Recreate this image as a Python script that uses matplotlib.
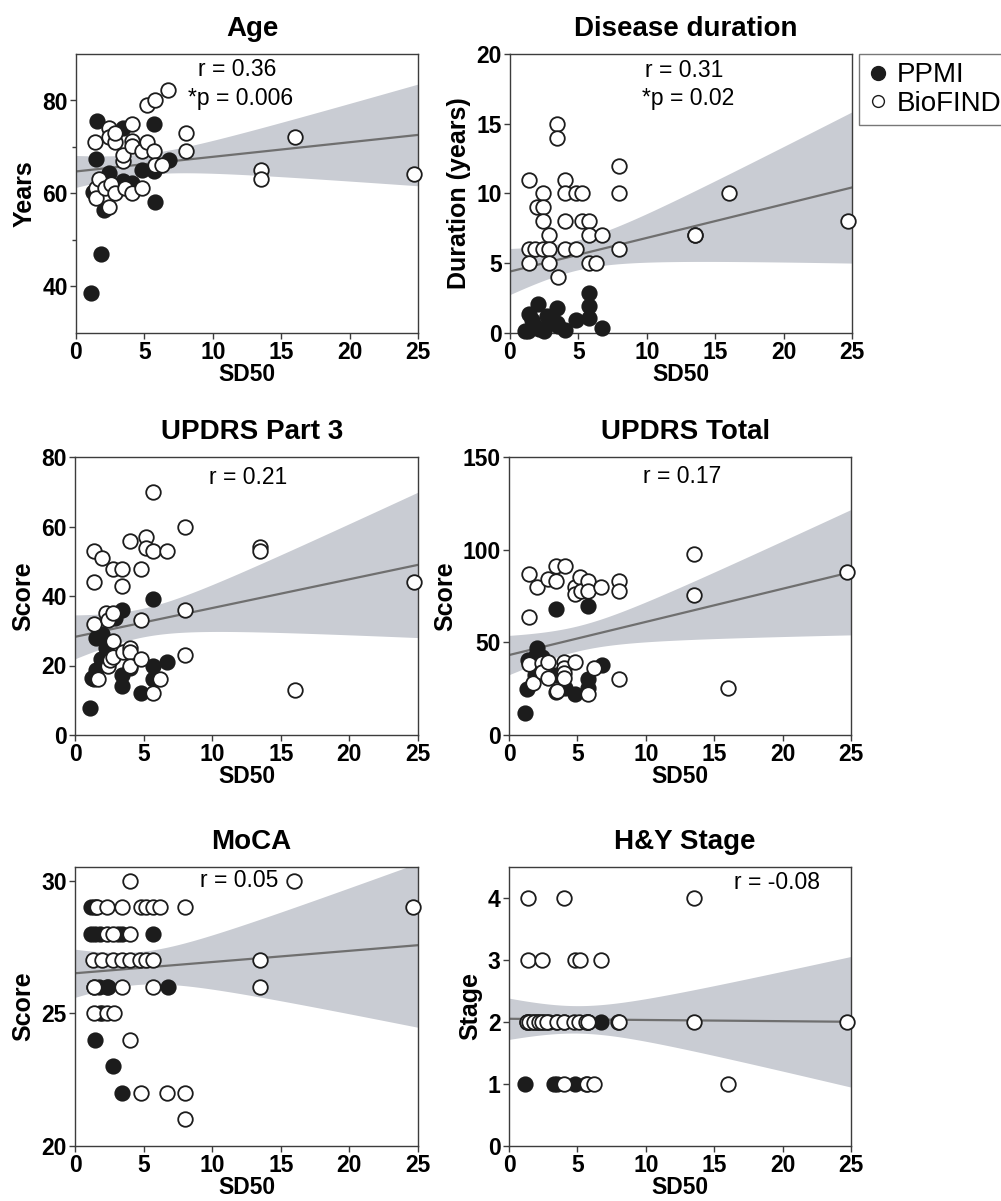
import numpy as np
import matplotlib
matplotlib.use('Agg')
import matplotlib.pyplot as plt
from matplotlib.lines import Line2D

plt.rcParams['font.family'] = ['Liberation Sans', 'DejaVu Sans']

# ---- data (x = SD50) ----
# Age
age_ppmi_x = [1.51, 1.43, 1.12, 1.80, 2.04, 2.43, 3.45, 3.45, 4.06, 4.84, 5.69, 5.69, 5.74, 6.78, 1.22]
age_ppmi_y = [75.5, 67.5, 38.6, 47.0, 56.4, 64.4, 74.1, 62.6, 62.3, 65.1, 75.0, 64.9, 58.1, 67.1, 60.3]
age_bio_x = [1.41, 1.43, 1.43, 1.70, 2.09, 2.43, 2.43, 2.43, 2.53, 2.82, 2.82, 2.82, 3.45, 3.45, 3.55,
             4.06, 4.06, 4.06, 4.06, 4.84, 4.84, 5.20, 5.20, 5.74, 5.69, 5.74, 6.30, 6.74, 8.03, 8.03,
             13.55, 13.55, 16.0, 24.7]
age_bio_y = [71.0, 61.2, 59.0, 63.1, 61.2, 74.1, 72.2, 57.1, 62.1, 71.0, 73.0, 60.1, 66.9, 68.2, 61.2,
             75.0, 71.2, 70.2, 60.1, 69.1, 61.2, 79.1, 71.0, 80.2, 69.1, 66.1, 66.1, 82.2, 73.0, 69.1,
             65.1, 63.1, 72.1, 64.1]

# Disease duration
dur_ppmi_x = [1.11, 1.33, 1.41, 1.59, 2.02, 2.12, 2.52, 2.71, 2.92, 3.40, 3.45, 3.50, 4.03, 4.83,
              5.76, 5.76, 5.76, 6.74, 1.86]
dur_ppmi_y = [0.15, 0.15, 1.35, 0.9, 2.1, 0.3, 0.15, 1.25, 0.9, 1.8, 0.75, 0.5, 0.25, 0.9,
              2.9, 1.9, 1.05, 0.35, 0.5]
dur_bio_x = [1.41, 1.41, 1.41, 1.86, 1.99, 2.44, 2.44, 2.44, 2.44, 2.84, 2.84, 2.84, 3.45, 3.45, 3.50,
             4.03, 4.03, 4.03, 4.03, 4.83, 4.83, 5.25, 5.25, 5.76, 5.76, 5.76, 6.29, 6.74, 7.99, 7.99,
             7.99, 13.54, 13.54, 15.98, 24.68]
dur_bio_y = [11, 6, 5, 6, 9, 10, 9, 8, 6, 7, 6, 5, 15, 14, 4,
             11, 10, 8, 6, 10, 6, 10, 8, 8, 7, 5, 5, 7, 12, 10,
             6, 7, 7, 10, 8]

# UPDRS Part 3
u3_ppmi_x = [1.07, 1.27, 1.51, 1.56, 1.97, 1.88, 2.29, 2.90, 3.41, 3.41, 3.41, 4.0, 4.8, 5.68, 5.68, 5.68, 6.73, 1.36]
u3_ppmi_y = [7.9, 16.3, 28, 18.7, 29, 22, 24.9, 33.8, 35.9, 17.2, 14.1, 19.2, 12, 39.1, 19.9, 16, 20.9, 16]
u3_bio_x = [1.39, 1.39, 1.39, 1.97, 1.71, 2.29, 2.39, 2.39, 2.53, 2.78, 2.78, 2.78, 2.78, 3.39, 3.39, 3.51,
            4.0, 4.0, 4.0, 4.0, 4.8, 4.8, 4.8, 5.17, 5.17, 5.68, 5.68, 5.68, 6.21, 6.73, 8.02, 8.02, 8.02,
            13.5, 13.5, 16.0, 24.7]
u3_bio_y = [53, 44, 31.9, 51, 16, 35.2, 33, 19.9, 21.6, 47.9, 35.2, 27, 22.5, 47.9, 42.9, 23.9,
            55.8, 25.1, 23.9, 19.9, 47.9, 33, 22, 57, 53.9, 69.9, 53, 12, 16, 53, 59.9, 35.9, 23,
            54.1, 53, 12.9, 44]

# UPDRS Total
tot_ppmi_x = [1.17, 1.30, 1.38, 2.04, 1.99, 2.31, 1.91, 3.42, 3.42, 3.42, 4.11, 4.83, 5.76, 5.76, 5.76, 6.77, 2.44]
tot_ppmi_y = [12.0, 24.6, 40.4, 47.2, 43.1, 41.3, 32.3, 67.9, 32.3, 23.0, 25.1, 21.9, 69.7, 30.0, 25.1, 37.7, 42.2]
tot_bio_x = [1.43, 1.43, 1.43, 2.04, 1.78, 2.44, 2.44, 2.84, 2.84, 2.84, 3.42, 3.42, 3.50, 4.09, 4.03,
             4.03, 4.03, 4.03, 4.83, 4.83, 4.83, 5.18, 5.23, 5.76, 5.76, 5.76, 6.24, 6.71, 8.01, 8.01,
             8.01, 13.51, 13.51, 16.0, 24.68]
tot_bio_y = [87.1, 63.8, 38.1, 79.9, 27.8, 38.6, 33.8, 84.1, 39.5, 30.9, 91.1, 83.0, 23.9, 91.1, 39.5,
             35.9, 33.2, 30.9, 79.9, 76.3, 39.2, 85.0, 77.8, 83.0, 77.8, 21.9, 35.9, 79.9, 83.0, 77.8,
             30.0, 97.9, 75.8, 25.1, 88.0]

# MoCA
moca_ppmi_x = [1.15, 1.35, 1.5, 1.2, 1.45, 1.8, 3.15, 3.45, 5.7, 1.4, 1.75, 2.3, 2.4, 6.8, 1.8, 2.0, 1.48, 2.77, 3.45]
moca_ppmi_y = [29, 29, 29, 28, 28, 28, 28, 28, 28, 26, 26, 26, 26, 26, 25, 25, 24, 23, 22]
moca_bio_x = [3.99, 15.95,
              1.6, 2.36, 3.4, 4.79, 5.2, 5.69, 6.23, 8.0, 24.66,
              2.33, 2.77, 3.99,
              1.31, 2.0, 2.77, 3.45, 3.99, 4.77, 5.2, 5.69, 13.47,
              1.39, 3.4, 5.69, 13.47,
              1.39, 2.36, 2.82,
              3.99,
              4.79, 6.71, 8.0,
              8.0]
moca_bio_y = [30, 30,
              29, 29, 29, 29, 29, 29, 29, 29, 29,
              28, 28, 28,
              27, 27, 27, 27, 27, 27, 27, 27, 27,
              26, 26, 26, 26,
              25, 25, 25,
              24,
              22, 22, 22,
              21]

# H&Y stage (many PPMI stage-2 points sit under the open circles)
hy_ppmi_x = [6.73, 1.33, 1.41, 1.59, 1.86, 2.02, 2.12, 2.52, 2.71, 2.92, 3.40, 4.03, 5.76, 5.76,
             1.14, 3.27, 3.48, 4.79, 5.66]
hy_ppmi_y = [2, 2, 2, 2, 2, 2, 2, 2, 2, 2, 2, 2, 2, 2,
             1, 1, 1, 1, 1]
hy_bio_x = [1.36, 4.02, 13.51,
            1.36, 2.42, 4.79, 5.21, 6.73,
            1.28, 1.46, 1.81, 2.21, 2.42, 2.79, 3.48, 4.02, 4.73, 5.13, 5.66, 5.74, 7.98, 8.06, 13.51, 24.68,
            4.02, 5.72, 6.2, 15.98]
hy_bio_y = [4, 4, 4,
            3, 3, 3, 3, 3,
            2, 2, 2, 2, 2, 2, 2, 2, 2, 2, 2, 2, 2, 2, 2, 2,
            1, 1, 1, 1]

r_text = ['r = 0.36', 'r = 0.31', 'r = 0.21', 'r = 0.17', 'r = 0.05', 'r = -0.08']
p_text = ['*p = 0.006', '*p = 0.02', None, None, None, None]

W, H = 1001, 1201
fig = plt.figure(figsize=(W / 100, H / 100), dpi=100)

def rect(l, t, r, b):
    return [l / W, 1 - b / H, (r - l) / W, (b - t) / H]

# title, ylabel, data, ylim, yticks, minor, axes rect, r-text pos, p-text y
panels = [
    ('Age', 'Years', age_ppmi_x, age_ppmi_y, age_bio_x, age_bio_y, (30, 90), [40, 60, 80], [50, 70],
     rect(76, 54, 418, 333), (0.47, 0.943), 0.842),
    ('Disease duration', 'Duration (years)', dur_ppmi_x, dur_ppmi_y, dur_bio_x, dur_bio_y, (0, 20),
     [0, 5, 10, 15, 20], [], rect(510, 54, 852, 333), (0.51, 0.940), 0.842),
    ('UPDRS Part 3', 'Score', u3_ppmi_x, u3_ppmi_y, u3_bio_x, u3_bio_y, (0, 80), [0, 20, 40, 60, 80], [],
     rect(75, 457, 418, 735), (0.506, 0.928), None),
    ('UPDRS Total', 'Score', tot_ppmi_x, tot_ppmi_y, tot_bio_x, tot_bio_y, (0, 150), [0, 50, 100, 150], [],
     rect(509, 457, 851, 735), (0.506, 0.93), None),
    ('MoCA', 'Score', moca_ppmi_x, moca_ppmi_y, moca_bio_x, moca_bio_y, (20, 30.52), [20, 25, 30], [],
     rect(75, 867, 418, 1146), (0.479, 0.951), None),
    ('H&Y Stage', 'Stage', hy_ppmi_x, hy_ppmi_y, hy_bio_x, hy_bio_y, (0, 4.5), [0, 1, 2, 3, 4], [],
     rect(509, 867, 851, 1146), (0.785, 0.943), None),
]

spine_col = '#3c3c3c'
band_col = '#c9ccd3'
line_col = '#6f6f6f'
dark = '#1c1c1c'

for i, (title, ylab, px, py, bx, by, ylim, yt, ymin, r, tpos, py_txt) in enumerate(panels):
    ax = fig.add_axes(r)
    x = np.array(px + bx, dtype=float)
    y = np.array(py + by, dtype=float)
    # linear fit with 95% confidence band
    n = len(x)
    slope, icpt = np.polyfit(x, y, 1)
    s = np.sqrt(np.sum((y - (icpt + slope * x)) ** 2) / (n - 2))
    sxx = np.sum((x - x.mean()) ** 2)
    xs = np.linspace(0, 25, 200)
    yhat = icpt + slope * xs
    h = 2.0 * s * np.sqrt(1 / n + (xs - x.mean()) ** 2 / sxx)
    ax.fill_between(xs, yhat - h, yhat + h, color=band_col, lw=0, zorder=1)
    ax.plot(xs, yhat, color=line_col, lw=1.6, zorder=2)

    ax.scatter(px, py, s=110, facecolor=dark, edgecolor=dark, linewidths=1.2, zorder=3, clip_on=False)
    ax.scatter(bx, by, s=110, facecolor='white', edgecolor=dark, linewidths=1.3, zorder=4, clip_on=False)

    ax.set_xlim(0, 25)
    ax.set_ylim(*ylim)
    ax.set_xticks([0, 5, 10, 15, 20, 25], ['0', '5', '10', '15', '20', '25'], fontweight='bold')
    ax.set_yticks(yt, [str(v) for v in yt], fontweight='bold')
    if ymin:
        ax.set_yticks(ymin, minor=True)
        ax.tick_params(axis='y', which='minor', length=3, width=1, color=spine_col)
    ax.tick_params(axis='both', which='major', labelsize=16.5, length=4, width=1, color=spine_col, pad=2)
    for sp in ax.spines.values():
        sp.set_color(spine_col)
        sp.set_linewidth(1.0)
    ax.set_title(title, fontsize=20, fontweight='bold', pad=13, x=0.515)
    ax.set_xlabel('SD50', fontsize=16.5, fontweight='bold', labelpad=-1)
    ax.set_ylabel(ylab, fontsize=18, fontweight='bold', labelpad=4)
    ax.text(tpos[0], tpos[1], r_text[i], transform=ax.transAxes, ha='center', va='center', fontsize=16.5)
    if p_text[i]:
        ax.text(tpos[0] + 0.01, py_txt, p_text[i], transform=ax.transAxes, ha='center', va='center',
                fontsize=16.5)

handles = [Line2D([], [], ls='', marker='o', ms=10, mfc=dark, mec=dark),
           Line2D([], [], ls='', marker='o', ms=8.5, mfc='white', mec=dark, mew=1.0)]
fig.legend(handles, ['PPMI', 'BioFIND'], loc='upper left', bbox_to_anchor=(859 / W, 1 - 54 / H),
           fontsize=20, frameon=True, fancybox=False, edgecolor='#555555', borderpad=0.3,
           handletextpad=0.25, handlelength=0.8, labelspacing=0.1, borderaxespad=0)

fig.savefig('out.png', dpi=100)
